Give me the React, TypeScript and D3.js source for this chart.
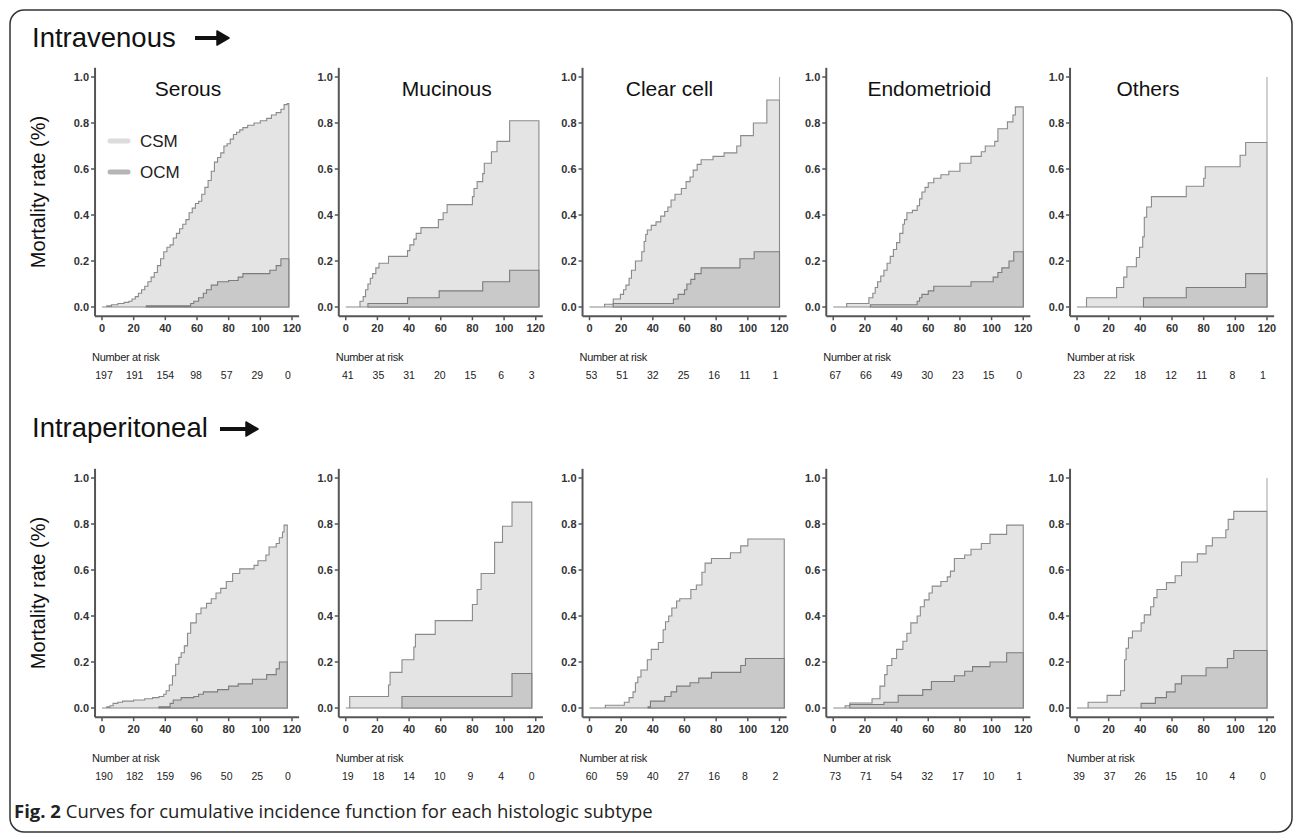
import React from 'react';
import * as d3 from 'd3';

type Pt = [number, number];

// panel names and row labels
const subtypes = ['Serous', 'Mucinous', 'Clear cell', 'Endometrioid', 'Others'];
const routes = ['Intravenous', 'Intraperitoneal'];
const xTicks = [0, 20, 40, 60, 80, 100, 120];
const yTicks = [0, 0.2, 0.4, 0.6, 0.8, 1.0];
const legendKeys = ['CSM', 'OCM'];

// cumulative incidence, cancer-specific mortality, intravenous row
const csmIV: Pt[][] = [
  [[0, 0], [3, 0.005], [6, 0.01], [10, 0.015], [14, 0.02], [17, 0.025], [19, 0.035], [21, 0.045], [23, 0.06], [25, 0.075], [27, 0.09], [29, 0.11], [31, 0.13], [33, 0.15], [35, 0.18], [37, 0.21], [39, 0.24], [41, 0.26], [43, 0.27], [45, 0.3], [47, 0.32], [49, 0.34], [51, 0.36], [53, 0.38], [55, 0.41], [57, 0.43], [59, 0.45], [61, 0.46], [63, 0.49], [65, 0.52], [67, 0.55], [69, 0.59], [71, 0.63], [73, 0.65], [75, 0.67], [77, 0.7], [79, 0.71], [81, 0.73], [83, 0.75], [85, 0.76], [87, 0.77], [89, 0.78], [92, 0.79], [96, 0.8], [100, 0.81], [104, 0.82], [107, 0.835], [110, 0.845], [113, 0.86], [115, 0.88], [117, 0.885]],
  [[0, 0], [9, 0.025], [11, 0.045], [12.5, 0.075], [14, 0.1], [15.5, 0.125], [17, 0.145], [19, 0.17], [21, 0.19], [27, 0.22], [39, 0.245], [40.5, 0.27], [43, 0.295], [44.5, 0.32], [47.5, 0.345], [58.5, 0.38], [61.5, 0.41], [64, 0.445], [80, 0.48], [81, 0.515], [83, 0.545], [86.5, 0.58], [87.5, 0.625], [92, 0.675], [95.5, 0.72], [103.5, 0.81]],
  [[0, 0], [9.5, 0.012], [15, 0.035], [19.5, 0.055], [21.5, 0.075], [23, 0.095], [25, 0.125], [26.5, 0.16], [29, 0.2], [33, 0.24], [34.5, 0.285], [35.5, 0.315], [36.5, 0.335], [39, 0.355], [42, 0.37], [45, 0.395], [47.5, 0.415], [49.5, 0.435], [51.5, 0.465], [54, 0.49], [58, 0.515], [61, 0.545], [63.5, 0.565], [65.5, 0.595], [68, 0.62], [70.5, 0.64], [78, 0.655], [85, 0.67], [93, 0.7], [95.5, 0.745], [103.5, 0.8], [112, 0.9]],
  [[0, 0], [8.5, 0.015], [22.5, 0.04], [25, 0.06], [26.5, 0.085], [28, 0.11], [30, 0.135], [32, 0.16], [34, 0.19], [36, 0.22], [38, 0.25], [40, 0.28], [42, 0.32], [44, 0.36], [45, 0.38], [46.5, 0.41], [50, 0.42], [53, 0.44], [54.5, 0.47], [56, 0.5], [58, 0.52], [60, 0.54], [63.5, 0.56], [68, 0.575], [73, 0.59], [80, 0.625], [87, 0.655], [93.5, 0.675], [96, 0.7], [102, 0.72], [104, 0.775], [110, 0.805], [113.5, 0.835], [115, 0.87]],
  [[0, 0], [6, 0.04], [25, 0.085], [29.5, 0.13], [31.5, 0.175], [37.5, 0.215], [39.5, 0.26], [41.5, 0.305], [42.5, 0.39], [44, 0.435], [47, 0.48], [69, 0.525], [80, 0.56], [81, 0.61], [103, 0.66], [106.5, 0.715]],
];

// other-cause mortality, intravenous row
const ocmIV: Pt[][] = [
  [[28, 0.005], [56, 0.015], [58, 0.025], [61, 0.04], [64, 0.06], [66, 0.075], [69, 0.095], [73, 0.11], [80, 0.115], [86, 0.13], [89, 0.145], [106, 0.16], [110, 0.18], [113, 0.21]],
  [[14, 0.015], [39, 0.04], [59, 0.07], [86.5, 0.11], [103.5, 0.16]],
  [[15, 0.015], [53, 0.035], [56, 0.055], [60, 0.075], [61.5, 0.1], [64, 0.12], [66.5, 0.145], [70.5, 0.17], [95, 0.21], [104, 0.24]],
  [[23.5, 0.01], [53, 0.025], [54.5, 0.04], [56, 0.055], [60, 0.07], [63.5, 0.09], [87, 0.11], [101, 0.13], [104, 0.15], [106.5, 0.17], [111, 0.2], [114, 0.24]],
  [[42, 0.04], [69, 0.085], [106.5, 0.145]],
];

// intraperitoneal row
const csmIP: Pt[][] = [
  [[0, 0], [3, 0.005], [5, 0.01], [7, 0.02], [10, 0.025], [13, 0.03], [20, 0.035], [27, 0.04], [32, 0.045], [36, 0.05], [39, 0.06], [40.5, 0.075], [42.5, 0.1], [44.5, 0.14], [46.5, 0.19], [48.5, 0.22], [50, 0.24], [52, 0.27], [54, 0.325], [56, 0.37], [59.5, 0.41], [62.5, 0.435], [66, 0.455], [69, 0.475], [72, 0.5], [75, 0.52], [78.5, 0.55], [82.5, 0.585], [87, 0.605], [96, 0.62], [98.5, 0.64], [103.5, 0.665], [105.5, 0.7], [110, 0.715], [112, 0.74], [114, 0.765], [115, 0.795]],
  [[0, 0], [2.5, 0.05], [27, 0.1], [28, 0.155], [35.5, 0.21], [43, 0.265], [44, 0.32], [56.5, 0.38], [80, 0.45], [83, 0.515], [85.5, 0.585], [94, 0.72], [99, 0.79], [105, 0.895]],
  [[0, 0], [10, 0.012], [22, 0.025], [25, 0.045], [27.5, 0.07], [29, 0.11], [30.5, 0.135], [32.5, 0.165], [36.5, 0.21], [39, 0.255], [43.5, 0.285], [46.5, 0.34], [48, 0.375], [50, 0.4], [52, 0.435], [55, 0.465], [57, 0.475], [64, 0.515], [67.5, 0.535], [71, 0.59], [73, 0.63], [77, 0.65], [89, 0.675], [95.5, 0.705], [100, 0.735]],
  [[0, 0], [7.5, 0.01], [10.5, 0.022], [24.5, 0.04], [29.5, 0.095], [32.5, 0.145], [34, 0.185], [37, 0.215], [40, 0.255], [44, 0.29], [46.5, 0.325], [49, 0.37], [53, 0.4], [55, 0.44], [57.5, 0.47], [60.5, 0.5], [62.5, 0.53], [68, 0.55], [72, 0.57], [74, 0.595], [76.5, 0.65], [83, 0.665], [87, 0.69], [93.5, 0.715], [99, 0.755], [109.5, 0.795]],
  [[0, 0], [7, 0.025], [19, 0.055], [27.5, 0.075], [30, 0.21], [31, 0.26], [32.5, 0.305], [35, 0.335], [40.5, 0.37], [42.5, 0.405], [46.5, 0.44], [48.5, 0.48], [50.5, 0.515], [56.5, 0.545], [62, 0.575], [66, 0.635], [76, 0.67], [81.5, 0.705], [85.5, 0.74], [94, 0.775], [95.5, 0.82], [99, 0.855]],
];

const ocmIP: Pt[][] = [
  [[36, 0.005], [43, 0.02], [45, 0.035], [50, 0.045], [58, 0.05], [61, 0.06], [64, 0.07], [73, 0.08], [80, 0.095], [86, 0.105], [95, 0.125], [104, 0.145], [110, 0.17], [112, 0.2]],
  [[35.5, 0.05], [105, 0.15]],
  [[37, 0.005], [38.5, 0.03], [47.5, 0.05], [51.5, 0.07], [55, 0.095], [63.5, 0.11], [69, 0.13], [77, 0.155], [95.5, 0.185], [98.5, 0.215]],
  [[10.5, 0.015], [32, 0.025], [41, 0.055], [56.5, 0.08], [62, 0.115], [76.5, 0.14], [83, 0.16], [88, 0.18], [99, 0.2], [109.5, 0.24]],
  [[40.5, 0.02], [49.5, 0.045], [56.5, 0.07], [62, 0.105], [66, 0.14], [81.5, 0.175], [95, 0.215], [99, 0.25]],
];

// last follow-up month of each curve
const endIV = [118, 122, 120, 120, 120];
const endIP = [117, 117.5, 123, 120, 120];
// curves whose final jump is drawn to 1.0
const jumpIV = [false, false, true, false, true];
const jumpIP = [false, false, false, false, true];

// number at risk at 0,20,...,120 months
const riskIV = [
  [197, 191, 154, 98, 57, 29, 0],
  [41, 35, 31, 20, 15, 6, 3],
  [53, 51, 32, 25, 16, 11, 1],
  [67, 66, 49, 30, 23, 15, 0],
  [23, 22, 18, 12, 11, 8, 1],
];
const riskIP = [
  [190, 182, 159, 96, 50, 25, 0],
  [19, 18, 14, 10, 9, 4, 0],
  [60, 59, 40, 27, 16, 8, 2],
  [73, 71, 54, 32, 17, 10, 1],
  [39, 37, 26, 15, 10, 4, 0],
];

const rows = [
  { csm: csmIV, ocm: ocmIV, end: endIV, jump: jumpIV, risk: riskIV, top: 77, titles: true },
  { csm: csmIP, ocm: ocmIP, end: endIP, jump: jumpIP, risk: riskIP, top: 478, titles: false },
];

const titleDx = [86, 101, 80, 96, 71];
const sans = '"Liberation Sans", Arial, sans-serif';
const CSM_FILL = '#e4e4e4';
const OCM_FILL = '#c9c9c9';
const LINE = '#8a8a8a';
const AXIS = '#555';

function Panel({ i, row }: { i: number; row: typeof rows[number] }) {
  const x0 = 102 + i * 243.75;
  const x = d3.scaleLinear().domain([0, 120]).range([x0, x0 + 190]);
  const y = d3.scaleLinear().domain([0, 1]).range([row.top + 230, row.top]);
  const end = row.end[i];

  const withEnd = (pts: Pt[]): Pt[] => [...pts, [end, pts[pts.length - 1][1]]];
  const area = d3
    .area<Pt>()
    .x((d) => x(d[0]))
    .y0(y(0))
    .y1((d) => y(d[1]))
    .curve(d3.curveStepAfter);

  const csm = withEnd(row.csm[i]);
  const ocm = withEnd(row.ocm[i]);
  const axX = x(-4.4);
  const axY = y(-0.04);
  const last = csm[csm.length - 1];
  const riskX = d3.scaleLinear().domain([0, 120]).range([x0 + 2, x0 + 186]);

  return (
    <g>
      <path d={area(csm) + 'Z'} fill={CSM_FILL} stroke={LINE} strokeWidth={1.1} />
      <path d={area(ocm) + 'Z'} fill={OCM_FILL} stroke="#7c7c7c" strokeWidth={1.1} />
      {row.jump[i] && (
        <line x1={x(last[0])} x2={x(last[0])} y1={y(last[1])} y2={y(1)} stroke="#aaa" strokeWidth={1.1} />
      )}
      {/* axes */}
      <line x1={axX} x2={axX} y1={y(1.04)} y2={axY} stroke={AXIS} strokeWidth={2} />
      <line x1={axX} x2={x(124.5)} y1={axY} y2={axY} stroke={AXIS} strokeWidth={2} />
      {yTicks.map((t) => (
        <g key={t}>
          <line x1={axX - 4} x2={axX} y1={y(t)} y2={y(t)} stroke={AXIS} strokeWidth={1.5} />
          <text x={axX - 6} y={y(t) + 4} textAnchor="end" fontSize={11} fontWeight="bold" fill="#333" fontFamily={sans}>
            {t.toFixed(1)}
          </text>
        </g>
      ))}
      {xTicks.map((t) => (
        <g key={t}>
          <line x1={x(t)} x2={x(t)} y1={axY} y2={axY + 4} stroke={AXIS} strokeWidth={1.5} />
          <text x={x(t)} y={axY + 16} textAnchor="middle" fontSize={11} fontWeight="bold" fill="#333" fontFamily={sans}>
            {t}
          </text>
        </g>
      ))}
      {row.titles && (
        <text x={x0 + titleDx[i]} y={row.top + 19} textAnchor="middle" fontSize={21} fill="#111" fontFamily={sans}>
          {subtypes[i]}
        </text>
      )}
      {/* number at risk */}
      <text x={axX - 3} y={axY + 45} fontSize={11} fill="#222" fontFamily={sans} letterSpacing={-0.3}>
        Number at risk
      </text>
      {row.risk[i].map((n, k) => (
        <text key={k} x={riskX(xTicks[k])} y={axY + 63} textAnchor="middle" fontSize={10.5} fill="#222" fontFamily={sans}>
          {n}
        </text>
      ))}
    </g>
  );
}

function Arrow({ x1, x2, cy }: { x1: number; x2: number; cy: number }) {
  return (
    <g>
      <line x1={x1} x2={x2 - 8} y1={cy} y2={cy} stroke="#111" strokeWidth={4} />
      <path d={`M${x2 - 12},${cy - 7} L${x2},${cy} L${x2 - 12},${cy + 7} Z`} fill="#111" stroke="#111" strokeWidth={1.5} strokeLinejoin="round" />
    </g>
  );
}

export default function App() {
  return (
    <svg width={1296} height={835} style={{ position: 'absolute', left: 0, top: 0, background: '#fff' }}>
      <rect x={10} y={10} width={1282} height={822} rx={14} fill="#fff" stroke="#333" strokeWidth={1.5} />
      <text x={32} y={47} fontSize={27.5} fill="#111" fontFamily={sans}>{routes[0]}</text>
      <Arrow x1={195} x2={229} cy={38} />
      <text x={32} y={437} fontSize={27.5} fill="#111" fontFamily={sans}>{routes[1]}</text>
      <Arrow x1={220} x2={258} cy={429} />

      {rows.map((row, r) => (
        <g key={r}>
          {subtypes.map((s, i) => (
            <Panel key={s} i={i} row={row} />
          ))}
          <text
            transform={`translate(45,${row.top + 115}) rotate(-90)`}
            textAnchor="middle"
            fontSize={20}
            fill="#111"
            fontFamily={sans}
          >
            Mortality rate (%)
          </text>
        </g>
      ))}

      {/* legend */}
      {legendKeys.map((k, j) => (
        <g key={k}>
          <line x1={110} x2={128} y1={141 + j * 31} y2={141 + j * 31} stroke={j === 0 ? '#dcdcdc' : '#b5b5b5'} strokeWidth={5} strokeLinecap="round" />
          <text x={140} y={147 + j * 31} fontSize={17} fill="#222" fontFamily={sans}>{k}</text>
        </g>
      ))}

      <text x={14} y={818} fontSize={18.5} fill="#222" fontFamily='"Open Sans", sans-serif'>
        <tspan fontWeight="bold">Fig. 2</tspan> Curves for cumulative incidence function for each histologic subtype
      </text>
    </svg>
  );
}
